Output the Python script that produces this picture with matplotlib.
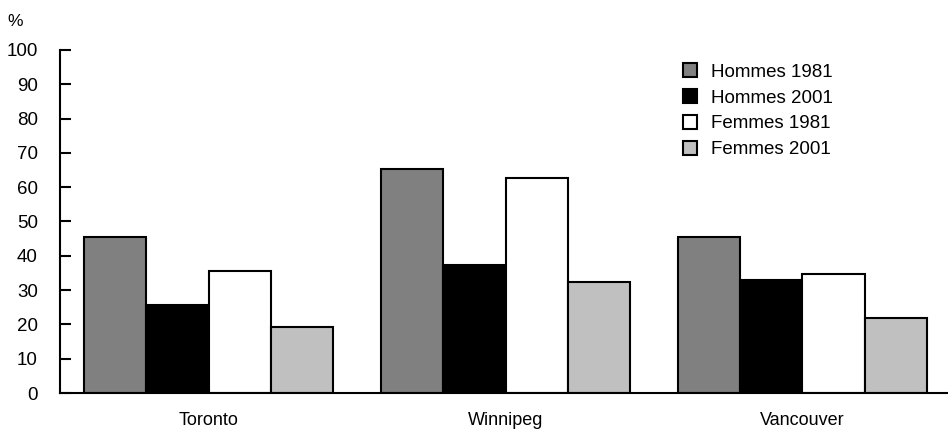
import matplotlib
matplotlib.use("Agg")
import matplotlib.pyplot as plt
import numpy as np
from matplotlib import font_manager

cities = ["Toronto", "Winnipeg", "Vancouver"]
series_names = ["Hommes 1981", "Hommes 2001", "Femmes 1981", "Femmes 2001"]
hommes_1981 = [45.6, 65.4, 45.6]
hommes_2001 = [25.6, 37.4, 32.9]
femmes_1981 = [35.6, 62.6, 34.7]
femmes_2001 = [19.2, 32.4, 22.0]
yticks = [0, 10, 20, 30, 40, 50, 60, 70, 80, 90, 100]

names = {f.name for f in font_manager.fontManager.ttflist}
fam = "Liberation Sans Narrow" if "Liberation Sans Narrow" in names else "Liberation Sans"
plt.rcParams["font.family"] = [fam, "DejaVu Sans"]

fig = plt.figure(figsize=(9.48, 4.4), dpi=100)
ax = fig.add_axes([60/948, 47/440, 891/948, 343/440])

series = [hommes_1981, hommes_2001, femmes_1981, femmes_2001]
colors = ["#808080", "#000000", "#ffffff", "#c0c0c0"]
w = 0.209
x = np.arange(len(cities))
for i, (vals, c, n) in enumerate(zip(series, colors, series_names)):
    ax.bar(x + (i - 1.5) * w, vals, w, color=c, edgecolor="black", linewidth=1.5, label=n, zorder=3)

ax.set_xlim(-0.5, 2.5)
ax.set_ylim(0, 100)
ax.set_yticks(yticks)
ax.set_yticklabels([str(v) for v in yticks], fontsize=13.5)
ax.set_xticks(x)
ax.set_xticklabels(cities, fontsize=13)
ax.tick_params(axis="x", length=0, pad=14)
ax.tick_params(axis="y", direction="in", length=8, width=1.5, pad=16)
for s in ["top", "right"]:
    ax.spines[s].set_visible(False)
ax.spines["left"].set_linewidth(1.5)
ax.spines["bottom"].set_linewidth(1.5)
ax.spines["bottom"].set_zorder(4)

fig.text(15/948, 1 - 22/440, "%", fontsize=12.5, ha="center", va="center")

leg = ax.legend(loc="upper left", bbox_to_anchor=(674/948, 1 - 54/440), bbox_transform=fig.transFigure,
                frameon=False, fontsize=13.5, handlelength=0.75, handleheight=0.75,
                handletextpad=0.7, labelspacing=0.45, borderpad=0)
for h in leg.legend_handles:
    h.set_linewidth(1.5)

fig.savefig("out.png", dpi=100)
